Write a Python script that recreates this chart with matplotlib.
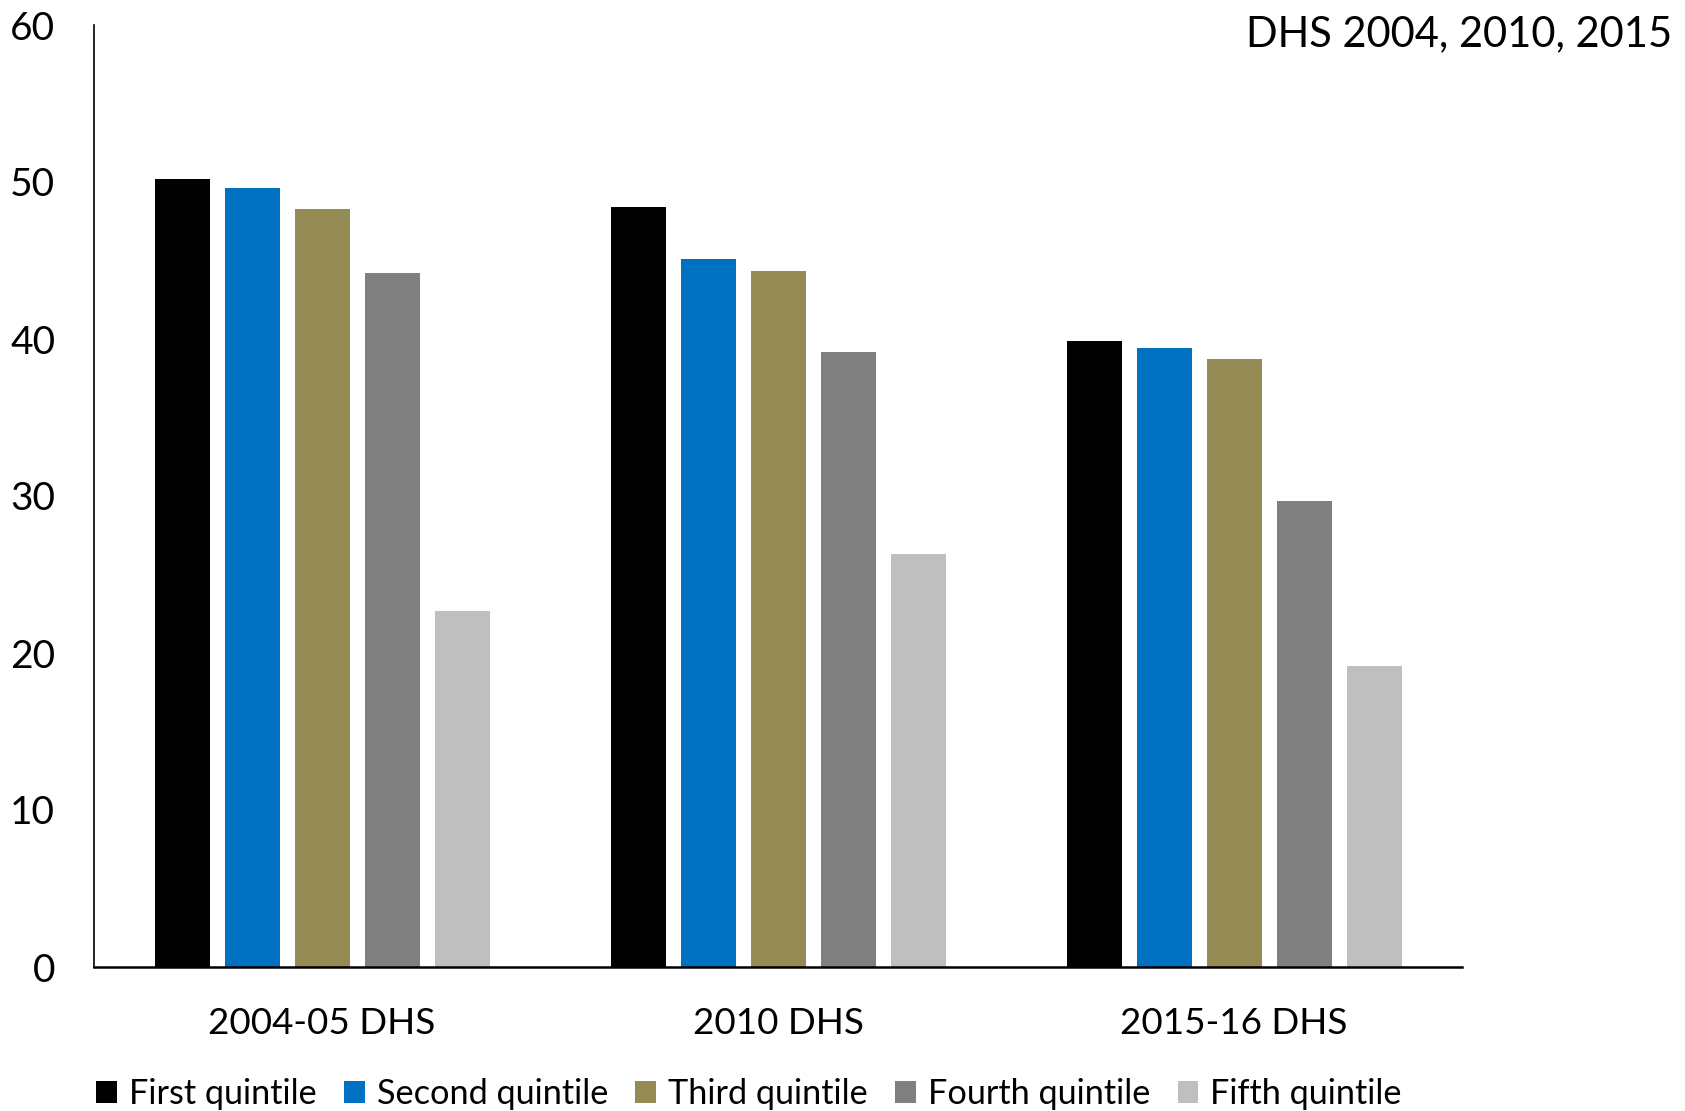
import numpy as np
import matplotlib
matplotlib.use('Agg')
from matplotlib import pyplot as plt

plt.rcParams['font.family'] = ['Lato', 'DejaVu Sans']

# survey rounds and wealth quintiles
surveys = ['2004-05 DHS', '2010 DHS', '2015-16 DHS']
quintiles = ['First quintile', 'Second quintile', 'Third quintile',
             'Fourth quintile', 'Fifth quintile']
colors = ['#000000', '#0070C0', '#948A54', '#808080', '#BFBFBF']

first_q  = [50.2, 48.4, 39.9]
second_q = [49.6, 45.1, 39.4]
third_q  = [48.3, 44.3, 38.7]
fourth_q = [44.2, 39.2, 29.7]
fifth_q  = [22.7, 26.3, 19.2]
values = [first_q, second_q, third_q, fourth_q, fifth_q]

W, H = 1685, 1111
fig = plt.figure(figsize=(W/100, H/100), dpi=100)
ax = fig.add_axes([94/W, 1 - 967/H, (1462 - 94)/W, (967 - 25)/H])

x = np.arange(len(surveys))
bar_w = 55/456
step = 70/456
for i, (name, vals) in enumerate(zip(quintiles, values)):
    ax.bar(x + (i - 2)*step, vals, width=bar_w, color=colors[i], label=name)

ax.set_xlim(-0.5, 2.5)
ax.set_ylim(0, 60)
ax.set_yticks(np.arange(0, 61, 10))
ax.set_xticks(x)
ax.set_xticklabels(surveys)
ax.tick_params(axis='y', length=0, pad=28, labelsize=28)
ax.tick_params(axis='x', length=0, pad=29, labelsize=26.5)
for s in ['top', 'right']:
    ax.spines[s].set_visible(False)
ax.spines['left'].set_linewidth(1.2)
ax.spines['bottom'].set_linewidth(1.8)

fig.text(1672/W, 1 - 34/H, 'DHS 2004, 2010, 2015', ha='right', va='center', fontsize=30)

fig.legend(loc='center', bbox_to_anchor=(749/W, 1 - 1094/H), ncol=5, frameon=False,
           fontsize=24.7, handlelength=0.6, handleheight=0.6, handletextpad=0.35,
           columnspacing=0.8)

fig.savefig('out.png', dpi=100)
